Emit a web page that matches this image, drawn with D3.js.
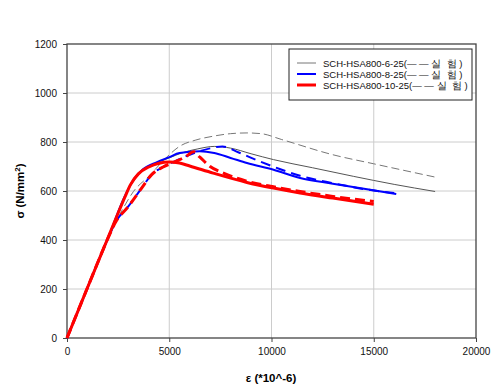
<!DOCTYPE html>
<html>
<head>
<meta charset="utf-8">
<script src="https://cdn.jsdelivr.net/npm/d3@7"></script>
<style>
  body { margin: 0; background: #fff; }
  svg { font-family: "Liberation Sans", Arial, sans-serif; }
</style>
</head>
<body>
<script>
// strain (*10^-6) / stress (N/mm2) pairs
const ana6 = [[0,0],[1000,205],[2100,428],[2750,565],[3250,640],[3700,684],[4400,715],[5000,735],[5600,755],[6400,772],[7200,782],[8000,775],[9000,752],[10100,728],[12000,695],[14000,660],[16000,627],[18000,598]];
const exp6 = [[0,0],[1000,205],[2100,425],[2750,530],[3250,598],[4000,660],[4900,740],[5500,782],[6300,808],[7100,823],[8000,834],[8800,837],[9500,834],[10500,810],[13000,748],[15000,711],[18100,655]];
const ana8 = [[0,0],[1000,205],[2100,428],[2750,565],[3250,646],[3700,688],[4400,718],[5000,738],[5500,755],[6500,762],[7200,755],[8000,735],[8800,714],[10100,687],[11400,653],[13000,630],[14600,608],[16100,588]];
const exp8 = [[0,0],[1000,205],[2100,425],[2350,469],[3000,537],[3650,612],[4140,667],[4700,698],[5300,722],[6000,748],[7000,774],[7600,782],[8400,757],[9400,722],[10400,690],[11400,662],[13000,632],[14600,607],[16000,592]];
const ana10 = [[0,0],[1000,205],[2000,408],[2500,510],[2830,575],[3100,625],[3490,670],[4000,698],[4500,713],[5000,718],[5500,714],[6000,702],[7150,673],[8800,635],[10100,612],[11400,592],[13000,571],[15000,546]];
const exp10 = [[0,0],[1000,205],[2100,425],[2350,469],[3000,537],[3650,612],[4140,667],[4700,698],[5300,720],[5800,740],[6200,760],[6500,738],[7000,700],[7650,673],[8800,640],[10100,617],[11400,598],[13000,578],[15000,557]];

const xTicks = [0, 5000, 10000, 15000, 20000];
const yTicks = [0, 200, 400, 600, 800, 1000, 1200];
const legendNames = ["SCH-HSA800-6-25(— — 실  험 )", "SCH-HSA800-8-25(— — 실  험 )", "SCH-HSA800-10-25(— — 실  험 )"];

const w = 500, h = 391;
const pLeft = 67, pRight = 476, pTop = 44, pBottom = 338;

const x = d3.scaleLinear().domain([0, 20000]).range([pLeft, pRight]);
const y = d3.scaleLinear().domain([0, 1200]).range([pBottom, pTop]);

const svg = d3.select("body").append("svg").attr("width", w).attr("height", h);

// grid
svg.append("g").selectAll("line").data(xTicks.slice(1, -1)).enter().append("line")
  .attr("x1", d => x(d)).attr("x2", d => x(d)).attr("y1", pTop).attr("y2", pBottom)
  .attr("stroke", "#cccccc").attr("stroke-width", 1);
svg.append("g").selectAll("line").data(yTicks.slice(1, -1)).enter().append("line")
  .attr("x1", pLeft).attr("x2", pRight).attr("y1", d => y(d)).attr("y2", d => y(d))
  .attr("stroke", "#cccccc").attr("stroke-width", 1);

// axes
const xAxis = svg.append("g").attr("transform", "translate(0," + pBottom + ")")
  .call(d3.axisBottom(x).tickValues(xTicks).tickSize(4).tickPadding(6).tickFormat(d3.format("d")));
const yAxis = svg.append("g").attr("transform", "translate(" + pLeft + ",0)")
  .call(d3.axisLeft(y).tickValues(yTicks).tickSize(4).tickPadding(6).tickFormat(d3.format("d")));
[xAxis, yAxis].forEach(a => {
  a.select(".domain").remove();
  a.selectAll("line").attr("stroke", "#444");
  a.selectAll("text").attr("font-size", 10).attr("fill", "#111").attr("font-family", "Liberation Sans, Arial, sans-serif");
});

// frame
svg.append("rect").attr("x", pLeft).attr("y", pTop).attr("width", pRight - pLeft).attr("height", pBottom - pTop)
  .attr("fill", "none").attr("stroke", "#444").attr("stroke-width", 1.3);

// curves
const line = d3.line().x(d => x(d[0])).y(d => y(d[1])).curve(d3.curveMonotoneX);
const series = [
  { data: exp6, color: "#777777", width: 1, dash: "8,4" },
  { data: ana6, color: "#555555", width: 1, dash: null },
  { data: exp8, color: "#0000ff", width: 2, dash: "10,6" },
  { data: ana8, color: "#0000ff", width: 2, dash: null },
  { data: exp10, color: "#ff0000", width: 3, dash: "10,5" },
  { data: ana10, color: "#ff0000", width: 3, dash: null }
];
svg.append("g").selectAll("path").data(series).enter().append("path")
  .attr("d", d => line(d.data))
  .attr("fill", "none")
  .attr("stroke", d => d.color)
  .attr("stroke-width", d => d.width)
  .attr("stroke-dasharray", d => d.dash);

// axis titles
svg.append("text").attr("x", 271).attr("y", 382).attr("text-anchor", "middle")
  .attr("font-size", 11.5).attr("font-weight", "bold").text("ε  (*10^-6)");
const yt = svg.append("text").attr("transform", "translate(24,191) rotate(-90)")
  .attr("text-anchor", "middle").attr("font-size", 11.5).attr("font-weight", "bold");
yt.append("tspan").text("σ  (N/mm");
yt.append("tspan").attr("font-size", 8).attr("dy", -4).text("2");
yt.append("tspan").attr("dy", 4).text(")");

// legend
const lg = svg.append("g");
lg.append("rect").attr("x", 289).attr("y", 49).attr("width", 183).attr("height", 51)
  .attr("fill", "#fff").attr("stroke", "#222").attr("stroke-width", 1);
const legendStyle = [{ color: "#777777", width: 1 }, { color: "#0000ff", width: 2 }, { color: "#ff0000", width: 3 }];
legendNames.forEach((name, i) => {
  const ly = 63 + i * 11;
  lg.append("line").attr("x1", 297).attr("x2", 316).attr("y1", ly).attr("y2", ly)
    .attr("stroke", legendStyle[i].color).attr("stroke-width", legendStyle[i].width);
  lg.append("text").attr("x", 323).attr("y", ly + 3.5).attr("font-size", 9.5).attr("fill", "#111")
    .attr("xml:space", "preserve").style("white-space", "pre").text(name);
});
</script>
</body>
</html>
